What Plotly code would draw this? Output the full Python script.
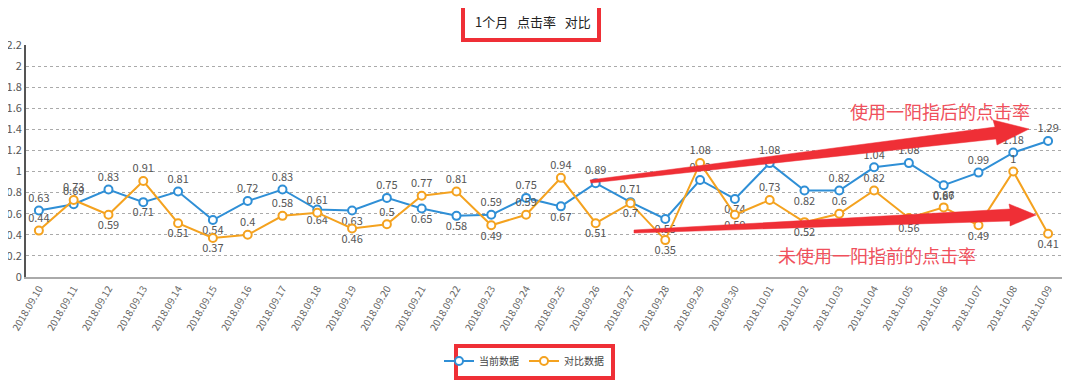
import plotly.graph_objects as go

dates = ["2018.09.10", "2018.09.11", "2018.09.12", "2018.09.13", "2018.09.14", "2018.09.15",
         "2018.09.16", "2018.09.17", "2018.09.18", "2018.09.19", "2018.09.20", "2018.09.21",
         "2018.09.22", "2018.09.23", "2018.09.24", "2018.09.25", "2018.09.26", "2018.09.27",
         "2018.09.28", "2018.09.29", "2018.09.30", "2018.10.01", "2018.10.02", "2018.10.03",
         "2018.10.04", "2018.10.05", "2018.10.06", "2018.10.07", "2018.10.08", "2018.10.09"]
current = [0.63, 0.69, 0.83, 0.71, 0.81, 0.54, 0.72, 0.83, 0.64, 0.63, 0.75, 0.65,
           0.58, 0.59, 0.75, 0.67, 0.89, 0.71, 0.55, 0.92, 0.74, 1.08, 0.82, 0.82,
           1.04, 1.08, 0.87, 0.99, 1.18, 1.29]
compare = [0.44, 0.73, 0.59, 0.91, 0.51, 0.37, 0.4, 0.58, 0.61, 0.46, 0.5, 0.77,
           0.81, 0.49, 0.59, 0.94, 0.51, 0.7, 0.35, 1.08, 0.59, 0.73, 0.52, 0.6,
           0.82, 0.56, 0.66, 0.49, 1.0, 0.41]
cur_pos = ["top", "top", "top", "bottom", "top", "bottom", "top", "top", "bottom", "bottom",
           "top", "bottom", "bottom", "top", "top", "bottom", "top", "top", "bottom", "top",
           "bottom", "top", "bottom", "top", "top", "top", "bottom", "top", "top", "top"]
cmp_pos = ["top", "top", "bottom", "top", "bottom", "bottom", "top", "top", "top", "bottom",
           "top", "top", "top", "bottom", "top", "top", "bottom", "bottom", "bottom", "top",
           "bottom", "top", "bottom", "top", "top", "bottom", "top", "bottom", "top", "bottom"]

BLUE = "#2f8fd6"
ORANGE = "#f4a21f"
RED = "#ef2f36"

def fmt(v):
    return ("%.2f" % v).rstrip("0").rstrip(".")

fig = go.Figure()
fig.add_trace(go.Scatter(
    x=dates, y=current, name="当前数据", mode="lines+markers+text",
    line=dict(color=BLUE, width=2),
    marker=dict(symbol="circle", size=8, color="white", line=dict(color=BLUE, width=2)),
    text=[fmt(v) for v in current], textposition=[p + " center" for p in cur_pos],
    textfont=dict(size=11, color="#555"), cliponaxis=False))
fig.add_trace(go.Scatter(
    x=dates, y=compare, name="对比数据", mode="lines+markers+text",
    line=dict(color=ORANGE, width=2),
    marker=dict(symbol="circle", size=8, color="white", line=dict(color=ORANGE, width=2)),
    text=[fmt(v) for v in compare], textposition=[p + " center" for p in cmp_pos],
    textfont=dict(size=11, color="#555"), cliponaxis=False))

# page body has an 8px margin: figure occupies screen 8..1072 x 8..383
OFF = 8
W, H = 1080 - 2 * OFF, 391 - 2 * OFF
X0, X1, Y0, Y1 = 26, 1062, 45, 277   # plot area in screen pixels
L, R, T, B = X0 - OFF, (W + OFF) - X1, Y0 - OFF, (H + OFF) - Y1
PW, PH = X1 - X0, Y1 - Y0

def px(x):
    return (x - X0) / PW

def py(y):
    return (Y1 - y) / PH

def poly(points):
    return "M " + " L ".join("%.5f,%.5f" % (px(a), py(b)) for a, b in points) + " Z"

shapes = []
arrow1 = [(590, 180), (995, 127), (993, 120), (1029, 129), (997, 145), (996, 139), (591, 183)]
arrow2 = [(634, 230), (1010, 209), (1009, 204), (1036, 215), (1010, 226), (1010, 221), (634, 233)]
for a in (arrow1, arrow2):
    shapes.append(dict(type="path", xref="paper", yref="paper", path=poly(a),
                       fillcolor=RED, line=dict(color=RED, width=0.5)))
shapes.append(dict(type="rect", xref="paper", yref="paper",
                   x0=px(463), x1=px(599), y0=py(4), y1=py(40),
                   line=dict(color=RED, width=4)))
shapes.append(dict(type="rect", xref="paper", yref="paper",
                   x0=px(456), x1=px(613), y0=py(346), y1=py(378),
                   line=dict(color=RED, width=4)))

NB = "\u00a0"
annotations = [
    dict(text="1个月" + NB * 3 + "点击率" + NB * 3 + "对比", xref="paper", yref="paper",
         x=px(533), y=py(21), showarrow=False, font=dict(size=13, color="#222"),
         xanchor="center", yanchor="middle"),
    dict(text="使用一阳指后的点击率", xref="paper", yref="paper", x=px(940), y=py(111),
         showarrow=False, font=dict(size=18, color="#f0505c"), xanchor="center", yanchor="middle"),
    dict(text="未使用一阳指前的点击率", xref="paper", yref="paper", x=px(877), y=py(255),
         showarrow=False, font=dict(size=18, color="#f0505c"), xanchor="center", yanchor="middle"),
]

fig.update_layout(
    width=W, height=H, margin=dict(l=L, r=R, t=T, b=B, autoexpand=False),
    paper_bgcolor="white", plot_bgcolor="white",
    font=dict(family="Noto Sans CJK SC, Noto Sans, sans-serif", color="#555"),
    shapes=shapes, annotations=annotations,
    legend=dict(orientation="h", x=px(524), y=py(361), xanchor="center", yanchor="middle",
                font=dict(size=10, color="#444"), itemwidth=30, bgcolor="rgba(0,0,0,0)"),
    showlegend=True,
)
fig.update_xaxes(type="category", range=[-0.37, 29.4], tickangle=-60, automargin=False,
                 tickfont=dict(size=10, color="#666"), showgrid=False,
                 showline=True, linecolor="#aaa", linewidth=2, ticks="", zeroline=False)
fig.update_yaxes(range=[0, 2.2], dtick=0.2, tickformat="~g", automargin=False,
                 tickfont=dict(size=11, color="#555"), showgrid=True, gridcolor="#aaa",
                 griddash="dot", gridwidth=1, showline=True, linecolor="#555", linewidth=2,
                 zeroline=False, ticks="", ticklen=0)

fig.write_html("out.html")
